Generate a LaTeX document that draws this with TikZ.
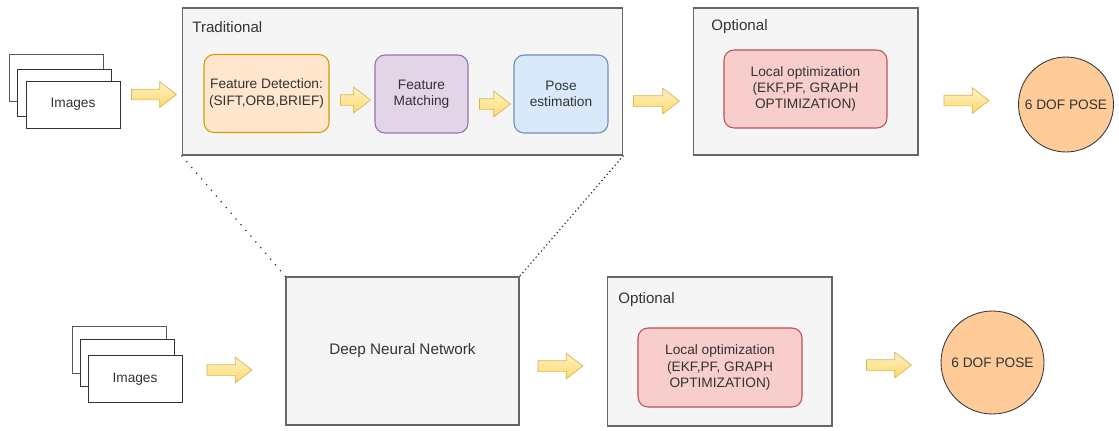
\documentclass[tikz,border=0pt]{standalone}
\usepackage{fontspec}
\setmainfont{Liberation Sans}
\usetikzlibrary{shapes.arrows,positioning,calc}
\definecolor{groupFill}{HTML}{F5F5F5}
\definecolor{groupLine}{HTML}{666666}
\definecolor{textGray}{HTML}{333333}
\definecolor{detectFill}{HTML}{FFE6CC}
\definecolor{detectLine}{HTML}{D79B00}
\definecolor{matchFill}{HTML}{E1D5E7}
\definecolor{matchLine}{HTML}{9673A6}
\definecolor{poseFill}{HTML}{DAE8FC}
\definecolor{poseLine}{HTML}{6C8EBF}
\definecolor{optFill}{HTML}{F8CECC}
\definecolor{optLine}{HTML}{B85450}
\definecolor{outFill}{HTML}{FFCC99}
\definecolor{outLine}{HTML}{36393D}
\definecolor{arrowTop}{HTML}{FFF2CC}
\definecolor{arrowBottom}{HTML}{FFD966}
\definecolor{arrowLine}{HTML}{D6B656}
\newcommand{\stagefont}{\fontsize{7.8}{9.2}\selectfont}
\newcommand{\grouptitlefont}{\fontsize{8.6}{10}\selectfont}

\tikzset{
  group/.style={draw=groupLine,fill=groupFill,line width=0.6pt,text=textGray},
  grouptitle/.style={anchor=west,inner sep=0pt,text=textGray,font=\grouptitlefont},
  stage/.style={rounded corners=0.2cm,line width=0.6pt,minimum height=1.56cm,align=center,inner sep=0pt,text=textGray,font=\stagefont},
  imgbox/.style={draw=black!80,fill=white,line width=0.45pt,minimum width=1.88cm,minimum height=0.94cm,text=textGray,font=\stagefont},
  outcircle/.style={circle,draw=outLine,fill=outFill,line width=0.5pt,inner sep=0pt,text=textGray,font=\stagefont},
  blockarrow/.style={single arrow,top color=arrowTop,bottom color=arrowBottom,draw=arrowLine,line width=0.4pt,
    minimum height=0.9cm,minimum width=0pt,inner xsep=0pt,inner ysep=0.1cm,
    single arrow head extend=0.15cm,single arrow tip angle=75},
  zoomline/.style={draw=black!80,line width=0.7pt}
}

\begin{document}
\begin{tikzpicture}[x=0.02cm,y=-0.02cm]
\useasboundingbox (0,0) rectangle (1119,430);

% traditional pipeline
\node[imgbox,draw=black!65] (imgA1) at (56.5,78) {};
\node[imgbox] (imgA2) at (64.5,93) {};
\node[imgbox] (imgA3) at (73,104.5) {Images};
\node[group,minimum width=8.82cm,minimum height=2.94cm] (trad) at (402.5,81.5) {};
\node[grouptitle] (tradTitle) at (192,27) {Traditional};
\node[stage,fill=detectFill,draw=detectLine,minimum width=2.5cm] (detect) at (266.5,93.5) {Feature Detection:\\(SIFT,ORB,BRIEF)};
\node[stage,fill=matchFill,draw=matchLine,minimum width=1.86cm] (match) at (421.5,94) {Feature\\Matching};
\node[stage,fill=poseFill,draw=poseLine,minimum width=1.88cm] (estimate) at (561,94) {Pose\\estimation};
\node[group,minimum width=4.5cm,minimum height=2.94cm] (optA) at (805.5,81.5) {};
\node[grouptitle] (optATitle) at (711,27) {Optional};
\node[stage,fill=optFill,draw=optLine,minimum width=3.26cm] (localA) at (805.5,89) {Local optimization\\(EKF,PF, GRAPH\\OPTIMIZATION)};
\node[outcircle,minimum size=1.9cm] (poseA) at (1066,104.5) {6 DOF POSE};

\node[blockarrow] (arA1) at (150.5,94.5) {};
\node[blockarrow,minimum height=0.6cm] (arA2) at (352,100) {};
\node[blockarrow,minimum height=0.62cm] (arA3) at (491.5,104) {};
\node[blockarrow,minimum height=0.92cm] (arA4) at (653,101) {};
\node[blockarrow] (arA5) at (963,100.5) {};

% learned pipeline
\node[imgbox,draw=black!65] (imgB1) at (119,350) {};
\node[imgbox] (imgB2) at (127,363) {};
\node[imgbox] (imgB3) at (135,379) {Images};
\node[group,minimum width=4.66cm,minimum height=2.96cm,font=\fontsize{8.7}{10}\selectfont] (dnn) at (402.5,351) {Deep Neural Network};
\node[group,minimum width=4.5cm,minimum height=2.98cm] (optB) at (719.5,351.5) {};
\node[grouptitle] (optBTitle) at (618,300) {Optional};
\node[stage,fill=optFill,draw=optLine,minimum width=3.28cm,minimum height=1.58cm] (localB) at (720,367.5) {Local optimization\\(EKF,PF, GRAPH\\OPTIMIZATION)};
\node[outcircle,minimum size=2.06cm] (poseB) at (992.5,362.5) {6 DOF POSE};

\node[blockarrow] (arB1) at (226,370) {};
\node[blockarrow] (arB2) at (557,366) {};
\node[blockarrow] (arB3) at (885.5,365) {};

% zoom lines
\draw[zoomline,dash pattern=on 0.7pt off 3.6pt] (trad.south west) -- (dnn.north west);
\draw[zoomline,dash pattern=on 0.7pt off 1.6pt] (trad.south east) -- (dnn.north east);
\end{tikzpicture}
\end{document}
